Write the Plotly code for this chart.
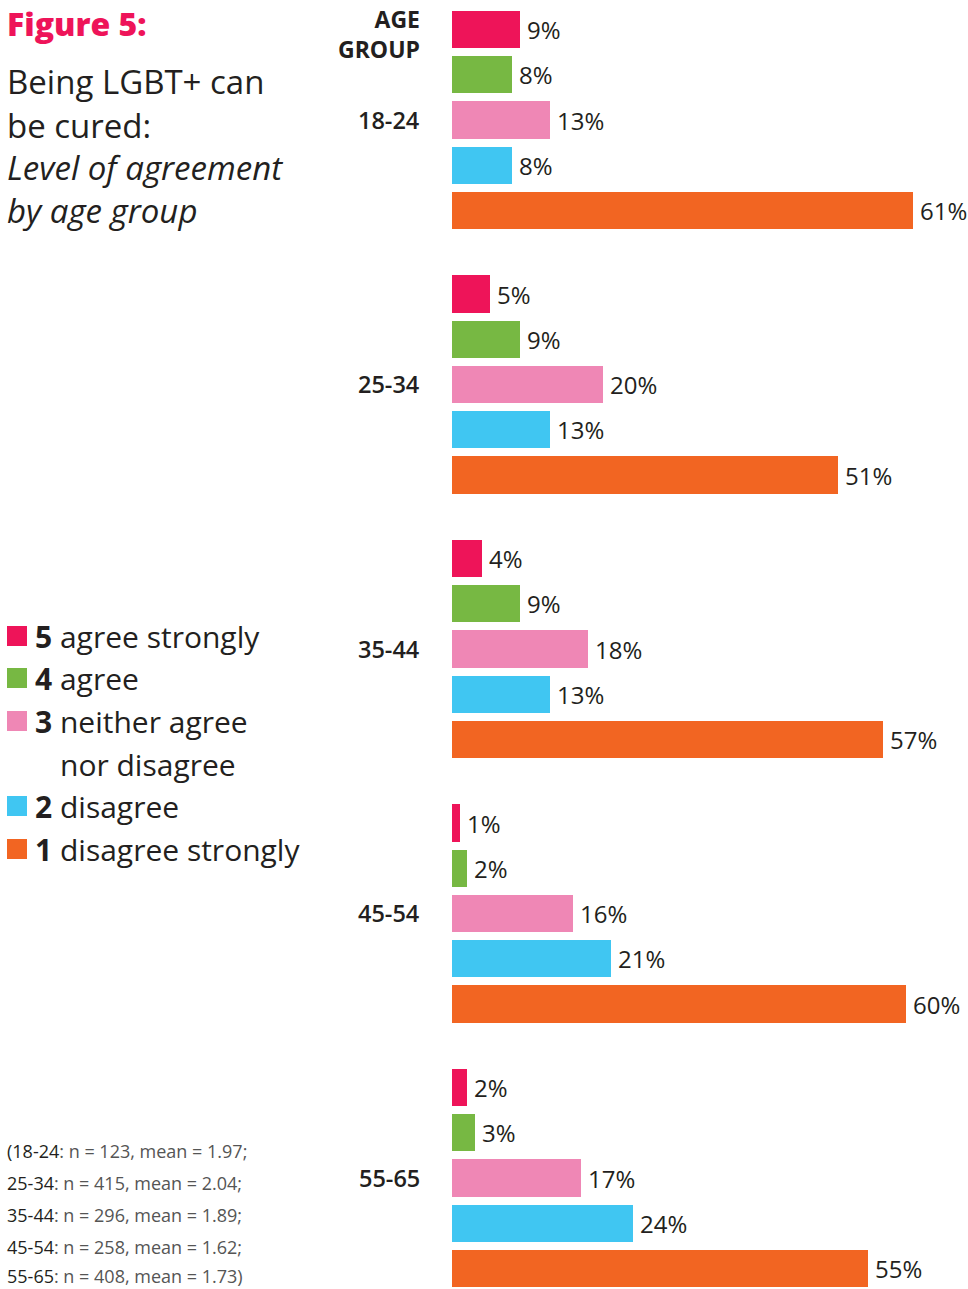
import plotly.graph_objects as go

W, H = 968, 1289

age_groups = ["18-24", "25-34", "35-44", "45-54", "55-65"]
levels = ["5", "4", "3", "2", "1"]
level_labels = ["agree strongly", "agree", "neither agree<br>nor disagree", "disagree", "disagree strongly"]
colors = ["#EE1459", "#77B843", "#EF87B5", "#40C6F2", "#F26522"]

# percentages per level for each age group
agree_strongly = [9, 5, 4, 1, 2]
agree = [8, 9, 9, 2, 3]
neither = [13, 20, 18, 16, 17]
disagree = [8, 13, 13, 21, 24]
disagree_strongly = [61, 51, 57, 60, 55]
series = [agree_strongly, agree, neither, disagree, disagree_strongly]

sample_n = [123, 415, 296, 258, 408]
means = ["1.97", "2.04", "1.89", "1.62", "1.73"]

FONT = "Open Sans"
DARK = "#231F20"
GROUP_STEP = 5.845
PX_PER_SLOT = 45.25
FIRST_CENTER_PX = 29.5

fig = go.Figure()
for k, (lev, vals, col) in enumerate(zip(levels, series, colors)):
    ys = [g * GROUP_STEP + k for g in range(len(age_groups))]
    fig.add_trace(go.Bar(
        x=vals, y=ys, orientation="h", width=0.82,
        marker=dict(color=col, line=dict(width=0)),
        text=[f"\u2009{v}%" for v in vals], textposition="outside",
        textfont=dict(family=FONT, size=24, color=DARK),
        constraintext="none", cliponaxis=False,
        showlegend=False, hoverinfo="skip", name=lev,
    ))

y_top = -FIRST_CENTER_PX / PX_PER_SLOT
y_bot = (H - FIRST_CENTER_PX) / PX_PER_SLOT
x0_px = 452
px_per_pct = 7.56

fig.update_layout(
    width=W, height=H, margin=dict(l=0, r=0, t=0, b=0),
    paper_bgcolor="white", plot_bgcolor="white",
    bargap=0,
    xaxis=dict(domain=[x0_px / W, 1], range=[0, (W - x0_px) / px_per_pct],
               visible=False, fixedrange=True),
    yaxis=dict(domain=[0, 1], range=[y_bot, y_top], visible=False, fixedrange=True),
)

def px(x):
    return x / W

def py(y):
    return 1 - y / H

ann = []
def add_text(text, x, y, size, color=DARK, xanchor="left", weight=400, style="normal", align="left"):
    ann.append(dict(text=text, x=px(x), y=py(y), xref="paper", yref="paper",
                    xanchor=xanchor, yanchor="middle", showarrow=False, align=align,
                    font=dict(family=FONT, size=size, color=color, weight=weight, style=style)))

# Title block
add_text("Figure 5:", 5, 24, 32, color="#EE1459", weight=800)
add_text("Being LGBT+ can", 5, 82, 33)
add_text("be cured:", 5, 125, 33)
add_text("Level of agreement", 5, 168, 33, style="italic")
add_text("by age group", 5, 210, 33, style="italic")

# Axis header
add_text("AGE<br>GROUP", 422, 34, 23, xanchor="right", weight=700, align="right")

# Age group labels (centred on middle bar of each group)
for g, name in enumerate(age_groups):
    ycen = FIRST_CENTER_PX + (g * GROUP_STEP + 2) * PX_PER_SLOT
    add_text(name, 422, ycen, 23.5, xanchor="right", weight=600)

# Legend
legend_rows = [636, 678, 721, 806, 849]
shapes = []
for lev, lab, col, yy in zip(levels, level_labels, colors, legend_rows):
    shapes.append(dict(type="rect", xref="paper", yref="paper",
                       x0=px(7), x1=px(27), y0=py(yy + 10), y1=py(yy - 10),
                       fillcolor=col, line=dict(width=0)))
    if "<br>" in lab:
        first, second = lab.split("<br>")
        add_text(f"<b>{lev}</b> {first}", 33, yy, 30)
        add_text(second, 58, yy + 43, 30)
    else:
        add_text(f"<b>{lev}</b> {lab}", 33, yy, 30)

# Footnote
foot_y = [1151, 1183, 1215, 1247, 1276]
for i, (name, n, m) in enumerate(zip(age_groups, sample_n, means)):
    pre = "(" if i == 0 else ""
    end = ")" if i == len(age_groups) - 1 else ";"
    txt = (f"<span style='color:{DARK}'>{pre}{name}</span>"
           f"<span style='color:#555555'>: n = {n}, mean = {m}{end}</span>")
    add_text(txt, 5, foot_y[i], 18, color="#555555")

fig.update_layout(annotations=ann, shapes=shapes)
fig.write_html("out.html", config={"displayModeBar": False},
               post_script="document.body.style.margin='0px';")
